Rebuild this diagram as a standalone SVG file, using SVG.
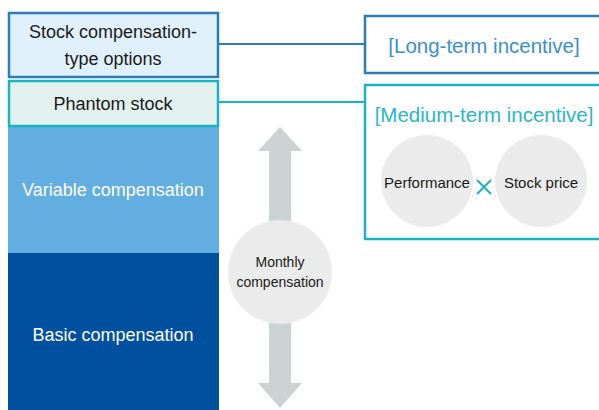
<svg xmlns="http://www.w3.org/2000/svg" width="599" height="410" viewBox="0 0 599 410">
<style>
.c{font-family:"Liberation Sans Narrow","Liberation Sans",Arial,sans-serif;text-anchor:middle;fill:#1a1a1a}
.w{fill:#ffffff}
.h{font-family:"Liberation Sans",Arial,sans-serif;text-anchor:middle;font-size:20.5px}
</style>
<rect width="599" height="410" fill="#ffffff"/>
<g id="connectors">
<line x1="219" y1="44" x2="365" y2="44" stroke="#2a7db5" stroke-width="2"/>
<line x1="219" y1="102" x2="365" y2="102" stroke="#1ab3c2" stroke-width="2"/>
</g>
<g id="basic"><rect x="8" y="253" width="211" height="157" fill="#0050a0"/>
<text class="c w" x="113" y="341" font-size="18">Basic compensation</text></g>
<g id="variable"><rect x="8" y="127" width="211" height="126" fill="#62aee0"/>
<text class="c w" x="113" y="196" font-size="18">Variable compensation</text></g>
<g id="options"><rect x="9" y="13" width="209" height="64" fill="#e0f0fa" stroke="#2a7db5" stroke-width="2.5"/>
<text class="c" x="113" y="38" font-size="18">Stock compensation-</text>
<text class="c" x="113" y="65" font-size="18">type options</text></g>
<g id="phantom"><rect x="9" y="81" width="209" height="45" fill="#e2f1ee" stroke="#1ab3c2" stroke-width="2.5"/>
<text class="c" x="113" y="110" font-size="18">Phantom stock</text></g>
<g id="arrow"><polygon points="280,127 302,151 291,151 291,383 302,383 280,408 258,383 269,383 269,151 258,151" fill="#cdd2d2"/></g>
<g id="monthly"><circle cx="280" cy="272" r="52" fill="#ebebeb"/>
<text class="c" x="280" y="267" font-size="14">Monthly</text>
<text class="c" x="280" y="287" font-size="14">compensation</text></g>
<g id="long"><rect x="365" y="16" width="240" height="57" fill="#ffffff" stroke="#2a7db5" stroke-width="2.5"/>
<text class="h" x="484" y="53" fill="#3a8fc8">[Long-term incentive]</text></g>
<g id="medium"><rect x="365" y="85" width="240" height="154" fill="#ffffff" stroke="#1ab3c2" stroke-width="2.5"/>
<text class="h" x="484" y="122" fill="#2bb6c6">[Medium-term incentive]</text>
<circle cx="427" cy="181" r="46" fill="#ebebeb"/>
<circle cx="541" cy="181" r="46" fill="#ebebeb"/>
<text class="c" x="427" y="188" font-size="15">Performance</text>
<text class="c" x="541" y="188" font-size="15">Stock price</text>
<path d="M477,180 L491,194 M491,180 L477,194" stroke="#1ab3c2" stroke-width="2"/></g>
</svg>
